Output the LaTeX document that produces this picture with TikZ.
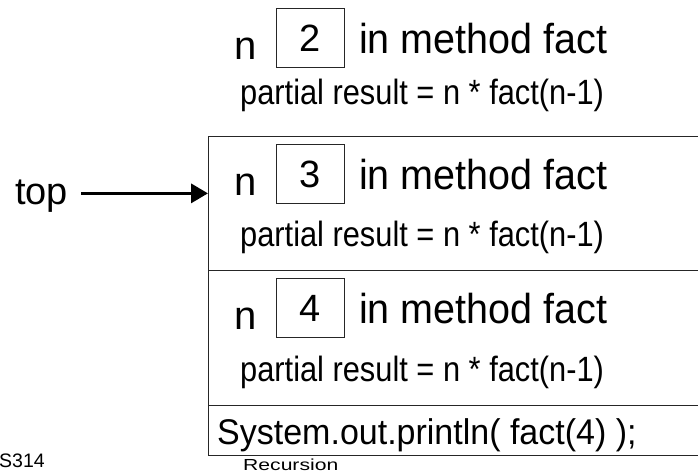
\documentclass[tikz,border=0pt]{standalone}
\usepackage{fontspec}
\usepackage{graphicx}
\setmainfont{Liberation Sans}
\usetikzlibrary{arrows.meta,positioning}

\tikzset{
  stackframe/.style={draw=black!85, line width=1.2pt, rectangle, anchor=north west,
    minimum width=540pt, inner sep=0pt},
  valbox/.style={draw=black!85, line width=0.9pt, minimum width=68pt, minimum height=59pt,
    text height=27pt, text depth=0pt, inner sep=0pt, font=\fontsize{38}{38}\selectfont},
  nlabel/.style={anchor=base west, inner sep=0pt, font=\fontsize{40}{40}\selectfont},
  methodtext/.style={anchor=base west, inner sep=0pt, font=\fontsize{39.5}{40}\selectfont},
  partialtext/.style={anchor=base west, inner sep=0pt, font=\fontsize{30.8}{31}\selectfont},
  systext/.style={anchor=base west, inner sep=0pt, font=\fontsize{34}{34}\selectfont},
  foottext/.style={anchor=base west, inner sep=0pt, font=\fontsize{19.5}{20}\selectfont},
  toparrow/.style={line width=3.5pt, -{Triangle[length=17pt,width=19pt]}, shorten <=13pt}
}

\begin{document}
\begin{tikzpicture}[x=1pt,y=-1pt]
  \useasboundingbox (0,0) rectangle (698,472);
  \clip (0,0) rectangle (698,472);

  % stack of frames, runs off the right edge
  \node[stackframe, minimum height=134pt] (f3) at (208,136) {};
  \node[stackframe, minimum height=135pt] (f4) at (208,270) {};
  \node[stackframe, minimum height=50pt] (fmain) at (208,405) {};

  % one frame per call of fact
  \foreach \val/\ft/\pr in {2/0/104, 3/136/246, 4/270/381} {
    \node[nlabel] (n\val) at (234,\ft+59.5) {n};
    \node[valbox] (v\val) at (310,\ft+37.5) {\val};
    \node[methodtext] (m\val) at (359,\ft+53) {\scalebox{1}[1.06]{in method fact}};
    \node[partialtext] (p\val) at (240,\pr) {\scalebox{1}[1.14]{partial result = n * fact(n-1)}};
  }

  \node[systext] (sys) at (217,444) {\scalebox{1}[1.05]{System.out.println( fact(4) );}};

  \node[nlabel, font=\fontsize{38}{38}\selectfont] (toplbl) at (15,204) {top};
  \draw[toparrow] ([yshift=8pt]toplbl.mid east) -- ([yshift=8pt]toplbl.mid east -| f3.west);

  \node[foottext] (course) at (-1,467) {S314};
  \node[foottext, font=\fontsize{16}{16}\selectfont] (title) at (243,470) {\scalebox{1.32}[1]{Recursion}};

  %\draw [red] (0,0) grid[step=50] (698,472);
\end{tikzpicture}
\end{document}
